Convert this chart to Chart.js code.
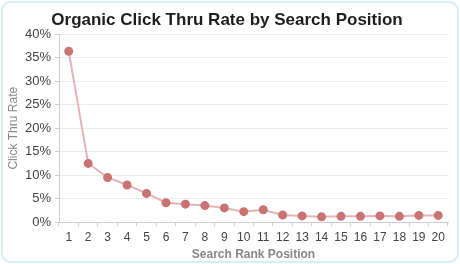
<!DOCTYPE html>
<html>
<head>
<meta charset="utf-8">
<script src="https://cdn.jsdelivr.net/npm/chart.js@4"></script>
<style>
  body { margin: 0; background: #fff; }
  #card {
    position: absolute; left: 1px; top: 1px; width: 454px; height: 258px;
    border: 2px solid #d6eef9; border-radius: 10px;
  }
  #wrap { position: absolute; left: 0; top: 0; width: 460px; height: 264px; }
</style>
</head>
<body>
<div id="card"></div>
<div id="wrap"><canvas id="myChart" width="460" height="264"></canvas></div>
<script>
// search positions and CTR (%)
var positions = ["1","2","3","4","5","6","7","8","9","10","11","12","13","14","15","16","17","18","19","20"];
var ctrValues = [36.4, 12.5, 9.5, 7.9, 6.1, 4.1, 3.8, 3.5, 3.0, 2.2, 2.6, 1.5, 1.3, 1.1, 1.2, 1.2, 1.3, 1.2, 1.4, 1.4];
var yTicks = [0, 5, 10, 15, 20, 25, 30, 35, 40];

var fontName = "'Liberation Sans', Arial, sans-serif";

new Chart("myChart", {
  type: "line",
  data: {
    labels: positions,
    datasets: [{
      data: ctrValues,
      borderColor: "#e4b4b4",
      borderWidth: 2,
      backgroundColor: "#c97373",
      pointBackgroundColor: "#c97373",
      pointBorderColor: "#c97373",
      pointRadius: 3.5,
      tension: 0
    }]
  },
  options: {
    responsive: false,
    animation: false,
    layout: { padding: { left: 6, right: 12, top: 8, bottom: 2 } },
    plugins: {
      legend: { display: false },
      tooltip: { enabled: false },
      title: {
        display: true,
        text: "Organic Click Thru Rate by Search Position",
        color: "#1e1e1e",
        font: { family: fontName, size: 17, weight: "bold" },
        padding: { top: 2, bottom: 4 }
      }
    },
    scales: {
      x: {
        offset: true,
        grid: { display: true, offset: true, drawOnChartArea: false, color: "#cfcfcf", tickLength: 4 },
        border: { color: "#cfcfcf" },
        ticks: { color: "#444", font: { family: fontName, size: 12 }, padding: 4, maxRotation: 0 },
        title: {
          display: true, text: "Search Rank Position", color: "#888",
          font: { family: fontName, size: 12, weight: "bold" }, padding: { top: 9, bottom: 0 }
        },
        afterFit: function (s) { s.height = 40; }
      },
      y: {
        min: 0, max: 40,
        afterBuildTicks: function (s) { s.ticks = yTicks.map(function (v) { return { value: v }; }); },
        grid: { color: "#ececec", tickLength: 4, tickColor: "#cfcfcf" },
        border: { color: "#cfcfcf" },
        ticks: {
          color: "#444", font: { family: fontName, size: 13 }, padding: 4,
          callback: function (v) { return v + "%"; }
        },
        title: {
          display: true, text: "Click Thru Rate", color: "#888",
          font: { family: fontName, size: 12 }, padding: { top: 0, bottom: 2 }
        },
        afterFit: function (s) { s.width = 53; }
      }
    }
  }
});
</script>
</body>
</html>
